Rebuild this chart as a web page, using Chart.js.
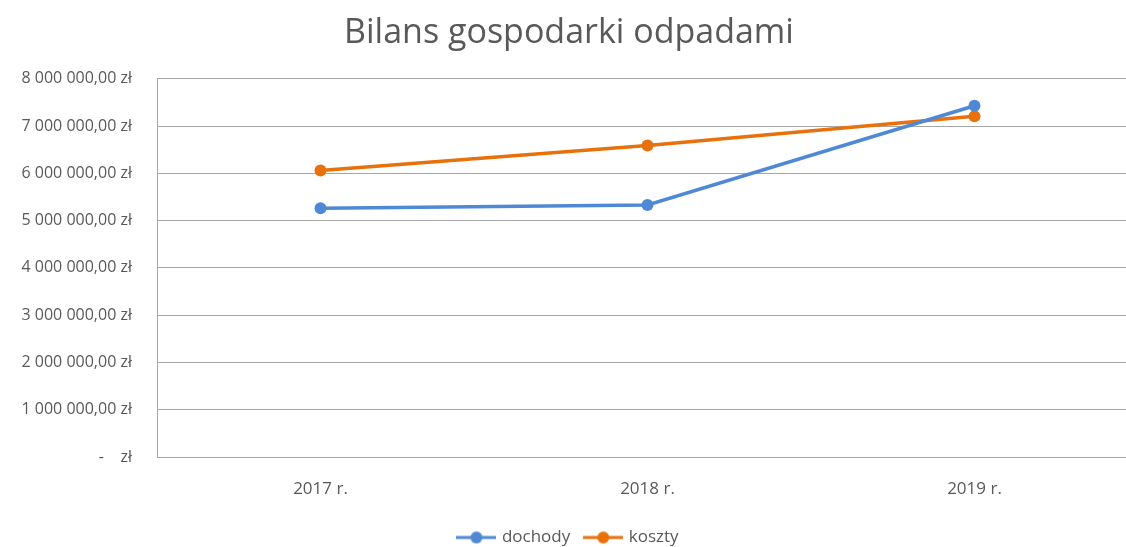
<!DOCTYPE html>
<html>
<head>
<meta charset="utf-8">
<script src="https://cdn.jsdelivr.net/npm/chart.js@4"></script>
<style>
  html, body { margin: 0; padding: 0; background: #fff; overflow: hidden; }
  #wrap { width: 1150px; height: 547px; }
</style>
</head>
<body>
<div id="wrap"><canvas id="myChart" width="1150" height="547"></canvas></div>
<script>
var years = ['2017 r.', '2018 r.', '2019 r.'];
var dochody = [5260000, 5330000, 7430000];
var koszty = [6060000, 6590000, 7210000];
var seriesNames = ['dochody', 'koszty'];
var blue = '#4f89d6';
var orange = '#e8710c';
var txt = '#595959';

// small line-with-dot picture for the legend
function legendMark(color) {
    var c = document.createElement('canvas');
    c.width = 40; c.height = 14;
    var g = c.getContext('2d');
    g.strokeStyle = color;
    g.lineWidth = 3;
    g.beginPath(); g.moveTo(0, 7); g.lineTo(40, 7); g.stroke();
    g.fillStyle = color;
    g.beginPath(); g.arc(20, 7, 6, 0, Math.PI * 2); g.fill();
    return c;
}

function zl(v) {
    if (v === 0) return '-    zł';
    var s = Math.round(v).toString().replace(/\B(?=(\d{3})+(?!\d))/g, ' ');
    return s + ',00 zł';
}

Chart.defaults.font.family = '"Open Sans", sans-serif';
Chart.defaults.color = txt;

const data = {
    labels: years,
    datasets: [{
        label: seriesNames[0],
        data: dochody,
        borderColor: blue,
        backgroundColor: blue,
        borderWidth: 3.5,
        pointRadius: 6,
        pointHoverRadius: 6,
        pointBorderWidth: 0,
        tension: 0
    }, {
        label: seriesNames[1],
        data: koszty,
        borderColor: orange,
        backgroundColor: orange,
        borderWidth: 3.5,
        pointRadius: 6,
        pointHoverRadius: 6,
        pointBorderWidth: 0,
        tension: 0
    }]
};

const marks = [legendMark(blue), legendMark(orange)];

const config = {
    type: 'line',
    data: data,
    options: {
        responsive: false,
        animation: false,
        layout: { padding: { left: 0, right: 12, top: 0, bottom: -9 } },
        plugins: {
            title: {
                display: true,
                text: 'Bilans gospodarki odpadami',
                color: txt,
                font: { size: 34, weight: 'normal' },
                padding: { top: 13, bottom: 25 }
            },
            legend: {
                position: 'bottom',
                labels: {
                    usePointStyle: true,
                    pointStyleWidth: 34,
                    boxHeight: 14,
                    padding: 16,
                    color: txt,
                    font: { size: 17 },
                    generateLabels: function (chart) {
                        return chart.data.datasets.map(function (ds, i) {
                            return {
                                text: ds.label,
                                pointStyle: marks[i],
                                fillStyle: ds.borderColor,
                                strokeStyle: ds.borderColor,
                                lineWidth: 0,
                                fontColor: txt,
                                datasetIndex: i,
                                hidden: false
                            };
                        });
                    }
                }
            },
            tooltip: { enabled: false }
        },
        scales: {
            x: {
                offset: true,
                afterFit: function (s) { s.height = 56; },
                grid: { display: false, drawTicks: false },
                border: { display: true, color: '#a6a6a6', width: 1 },
                ticks: { color: txt, font: { size: 17 }, padding: 22 }
            },
            y: {
                min: 0,
                max: 8000000,
                afterFit: function (s) { s.width = 157; },
                grid: { color: '#a6a6a6', drawTicks: false, lineWidth: 1 },
                border: { display: true, color: '#a6a6a6', width: 1 },
                ticks: {
                    stepSize: 1000000,
                    color: txt,
                    font: { size: 16 },
                    padding: 25,
                    callback: function (v) { return zl(v); }
                }
            }
        }
    }
};

const myChart = new Chart(document.getElementById('myChart'), config);
</script>
</body>
</html>
